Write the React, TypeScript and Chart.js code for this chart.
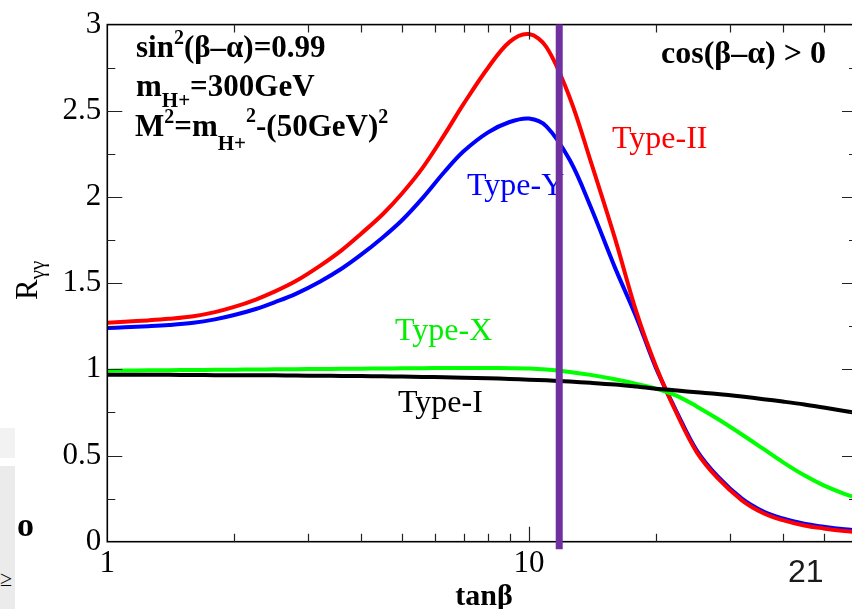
import React, { useEffect, useRef } from "react";
import { Chart, registerables } from "chart.js";

Chart.register(...registerables);

// ---------------- data ----------------
const tanBeta = [1, 1.1, 1.25, 1.4, 1.6, 1.8, 2, 2.25, 2.5, 2.8, 3.2, 3.6, 4, 4.5, 5, 5.6, 6.3, 7, 8, 9, 10, 11, 12.5, 14, 16, 18, 20, 22.5, 25, 28, 32, 36, 40, 45, 50, 56, 60];
const typeII = [1.27, 1.276, 1.284, 1.293, 1.308, 1.332, 1.362, 1.405, 1.452, 1.512, 1.602, 1.692, 1.787, 1.9, 2.02, 2.17, 2.36, 2.54, 2.75, 2.9, 2.945, 2.87, 2.576, 2.21, 1.76, 1.33, 1.02, 0.735, 0.52, 0.37, 0.24, 0.165, 0.125, 0.094, 0.077, 0.062, 0.056];
const typeY = [1.24, 1.244, 1.25, 1.257, 1.27, 1.29, 1.315, 1.35, 1.39, 1.438, 1.51, 1.585, 1.665, 1.765, 1.865, 1.995, 2.145, 2.265, 2.375, 2.435, 2.455, 2.41, 2.214, 1.945, 1.59, 1.3, 1.01, 0.745, 0.53, 0.38, 0.25, 0.175, 0.135, 0.104, 0.087, 0.072, 0.066];
const typeX = [0.992, 0.993, 0.994, 0.995, 0.996, 0.997, 0.998, 0.999, 1.0, 1.001, 1.002, 1.003, 1.004, 1.005, 1.006, 1.007, 1.008, 1.008, 1.008, 1.007, 1.005, 0.999, 0.985, 0.968, 0.942, 0.915, 0.888, 0.845, 0.785, 0.713, 0.622, 0.538, 0.462, 0.385, 0.327, 0.278, 0.254];
const typeI = [0.969, 0.969, 0.968, 0.968, 0.967, 0.966, 0.966, 0.965, 0.965, 0.964, 0.963, 0.962, 0.961, 0.96, 0.958, 0.956, 0.954, 0.951, 0.948, 0.944, 0.94, 0.936, 0.929, 0.922, 0.912, 0.9, 0.888, 0.877, 0.867, 0.857, 0.842, 0.827, 0.813, 0.796, 0.778, 0.758, 0.746];

const xLabelTicks = [1, 10];
const xTickMarks = [2, 3, 4, 5, 6, 7, 8, 9, 10, 20, 30, 40, 50];
const xMajorTicks = [10];
const yTickMarks = [0.25, 0.5, 0.75, 1, 1.25, 1.5, 1.75, 2, 2.25, 2.5, 2.75];
const markerTanBeta = 11.8;

const SERIF = '"Liberation Serif", "Times New Roman", serif';

type Seg = { t: string; size: number; dy?: number };

function drawRich(ctx: CanvasRenderingContext2D, x: number, y: number, segs: Seg[], weight: string, color: string) {
  let cx = x;
  ctx.fillStyle = color;
  ctx.textBaseline = "alphabetic";
  ctx.textAlign = "left";
  for (const s of segs) {
    ctx.font = `${weight} ${s.size}px ${SERIF}`;
    ctx.fillText(s.t, cx, y + (s.dy || 0));
    cx += ctx.measureText(s.t).width;
  }
}

const decor = {
  id: "decor",
  afterDatasetsDraw(chart: any) {
    const { ctx, chartArea: a, scales } = chart;
    const xs = scales.x;
    const ys = scales.y;
    ctx.save();
    // frame
    ctx.strokeStyle = "#000";
    ctx.lineWidth = 1.6;
    ctx.strokeRect(a.left, a.top, a.right - a.left, a.bottom - a.top);
    // inward ticks
    ctx.lineWidth = 1.2;
    ctx.strokeStyle = "#222";
    ctx.beginPath();
    for (const v of yTickMarks) {
      const y = Math.round(ys.getPixelForValue(v)) + 0.5;
      const len = Math.abs(v * 2 - Math.round(v * 2)) < 1e-6 ? 15 : 8;
      ctx.moveTo(a.left, y);
      ctx.lineTo(a.left + len, y);
      ctx.moveTo(a.right, y);
      ctx.lineTo(a.right - len, y);
    }
    for (const v of xTickMarks) {
      const x = Math.round(xs.getPixelForValue(v)) + 0.5;
      const len = xMajorTicks.includes(v) ? 15 : 8;
      ctx.moveTo(x, a.bottom);
      ctx.lineTo(x, a.bottom - len);
      ctx.moveTo(x, a.top);
      ctx.lineTo(x, a.top + len);
    }
    ctx.stroke();

    // annotations
    drawRich(ctx, 136, 57, [
      { t: "sin", size: 31 },
      { t: "2", size: 20, dy: -13 },
      { t: "(β–α)=0.99", size: 31 },
    ], "bold", "#000");
    drawRich(ctx, 136, 96, [
      { t: "m", size: 31 },
      { t: "H+", size: 21, dy: 11 },
      { t: "=300GeV", size: 31 },
    ], "bold", "#000");
    drawRich(ctx, 135, 136, [
      { t: "M", size: 31 },
      { t: "2", size: 20, dy: -13 },
      { t: "=m", size: 31 },
      { t: "H+", size: 21, dy: 14 },
      { t: "2", size: 20, dy: -14 },
      { t: "-(50GeV)", size: 31 },
      { t: "2", size: 20, dy: -13 },
    ], "bold", "#000");
    drawRich(ctx, 661, 63, [{ t: "cos(β–α) > 0", size: 32 }], "bold", "#000");

    drawRich(ctx, 612, 148, [{ t: "Type-II", size: 32 }], "normal", "#ff0000");
    drawRich(ctx, 467, 195, [{ t: "Type-Y", size: 32 }], "normal", "#0000ff");
    drawRich(ctx, 395, 340, [{ t: "Type-X", size: 32 }], "normal", "#00ee00");
    drawRich(ctx, 398, 412, [{ t: "Type-I", size: 32 }], "normal", "#000");

    // x title
    ctx.font = `bold 30px ${SERIF}`;
    ctx.fillStyle = "#000";
    ctx.textAlign = "center";
    ctx.textBaseline = "alphabetic";
    ctx.fillText("tanβ", 484, 605);

    // y title (rotated)
    ctx.save();
    ctx.translate(37, 300);
    ctx.rotate(-Math.PI / 2);
    drawRich(ctx, 0, 0, [
      { t: "R", size: 31 },
      { t: "γγ", size: 21, dy: 7 },
    ], "normal", "#000");
    ctx.restore();

    // stray label
    ctx.font = `32px "Liberation Sans", Arial, sans-serif`;
    ctx.fillStyle = "#1a1a1a";
    ctx.textAlign = "left";
    ctx.fillText("21", 788, 582);
    ctx.restore();
  },
  afterDraw(chart: any) {
    const { ctx, chartArea: a, scales } = chart;
    const x = scales.x.getPixelForValue(markerTanBeta);
    ctx.save();
    ctx.strokeStyle = "#7030a0";
    ctx.lineWidth = 7;
    ctx.beginPath();
    ctx.moveTo(x, a.top);
    ctx.lineTo(x, a.bottom + 7.5);
    ctx.stroke();
    ctx.restore();
  },
};

function pts(ys: number[]) {
  return tanBeta.map((x, i) => ({ x, y: ys[i] }));
}

export default function App() {
  const ref = useRef<HTMLCanvasElement | null>(null);
  useEffect(() => {
    if (!ref.current) return;
    const line = (label: string, data: number[], color: string) => ({
      label,
      data: pts(data),
      borderColor: color,
      backgroundColor: color,
      borderWidth: 4,
      pointRadius: 0,
      tension: 0.35,
      fill: false,
    });
    const chart = new Chart(ref.current, {
      type: "line",
      data: {
        datasets: [
          line("Type-I", typeI, "#000000"),
          line("Type-X", typeX, "#00ff00"),
          line("Type-II", typeII, "#ff0000"),
          line("Type-Y", typeY, "#0000ff"),
        ],
      },
      options: {
        animation: false,
        responsive: false,
        devicePixelRatio: 1,
        layout: { padding: { top: 17.3, right: 13, left: 0, bottom: 0 } },
        plugins: { legend: { display: false }, tooltip: { enabled: false } },
        scales: {
          x: {
            type: "logarithmic",
            min: 1,
            max: 60,
            grid: { display: false, drawTicks: false },
            border: { display: false },
            ticks: {
              autoSkip: false,
              maxRotation: 0,
              padding: 4,
              color: "#000",
              font: { family: SERIF, size: 31 },
              callback: (v: any) => (xLabelTicks.includes(Number(v)) ? String(v) : ""),
            },
            afterFit: (s: any) => {
              s.height = 67.3;
            },
          },
          y: {
            min: 0,
            max: 3,
            grid: { display: false, drawTicks: false },
            border: { display: false },
            ticks: {
              stepSize: 0.5,
              padding: 6,
              color: "#000",
              font: { family: SERIF, size: 31 },
              callback: (v: any) => String(Number(v)),
            },
            afterFit: (s: any) => {
              s.width = 107.3;
            },
          },
        },
      },
      plugins: [decor],
    });
    return () => chart.destroy();
  }, []);

  return (
    <div style={{ position: "fixed", left: 0, top: 0, width: 852, height: 609, overflow: "hidden", background: "#fff" }}>
      <canvas ref={ref} width={870} height={609} style={{ position: "absolute", left: 0, top: 0, width: 870, height: 609 }} />
      <div style={{ position: "absolute", left: 0, top: 428, width: 15, height: 30, background: "#f2f2f2" }} />
      <div style={{ position: "absolute", left: 0, top: 466, width: 15, height: 143, background: "#ebebeb", overflow: "hidden" }}>
        <div style={{ position: "absolute", left: 0, top: 102, fontFamily: SERIF, fontSize: 22, lineHeight: "22px", color: "#000" }}>≥</div>
      </div>
      <div style={{ position: "absolute", left: 17, top: 505, fontFamily: SERIF, fontWeight: "bold", fontSize: 34, lineHeight: "40px", color: "#000" }}>o</div>
    </div>
  );
}
